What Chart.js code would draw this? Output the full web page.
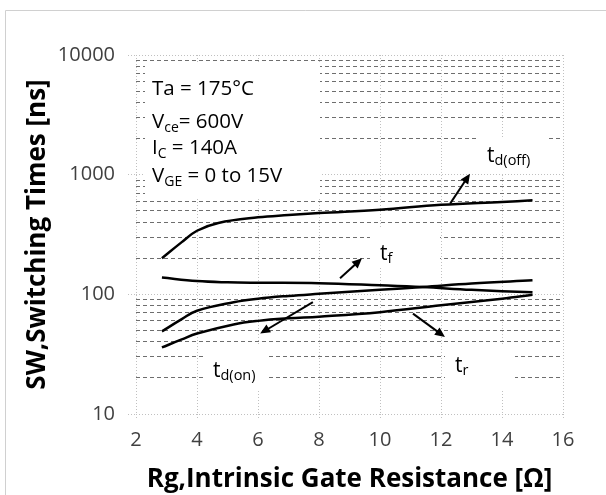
<!DOCTYPE html>
<html>
<head>
<meta charset="utf-8">
<script src="https://cdn.jsdelivr.net/npm/chart.js@4.4.1/dist/chart.umd.min.js"></script>
<style>
  html, body { margin: 0; padding: 0; background: #fff; }
  #wrap { position: relative; width: 606px; height: 495px; }
</style>
</head>
<body>
<div id="wrap"><canvas id="chart" width="606" height="495"></canvas></div>
<script>
// switching times [ns] against gate resistance [Ω]
const rgOff = [2.85, 3.5, 4, 4.7, 6, 7, 8, 10, 12, 14, 15];
const tdOff = [200, 273, 340, 395, 440, 460, 478, 510, 560, 592, 610];

const rgF = [2.85, 4, 5, 6, 8, 10, 11.4, 13, 15];
const tF = [138, 129, 126, 125, 124, 119, 115, 109, 104];

const rgOn = [2.85, 3.5, 4, 5.2, 6, 7, 8, 10, 11.4, 13, 15];
const tdOn = [49, 62, 73, 86, 92, 97, 101, 109, 115, 123, 131];

const rgR = [2.85, 3.5, 4, 5.2, 6, 7, 8, 10, 12, 14, 15];
const tR = [36, 42, 47, 56, 60, 63, 65, 71, 81, 92, 99];

const xTicks = [2, 4, 6, 8, 10, 12, 14, 16];
const yMajor = [10, 100, 1000, 10000];
const yMinor = [20, 30, 40, 50, 60, 70, 80, 90,
                200, 300, 400, 500, 600, 700, 800, 900,
                2000, 3000, 4000, 5000, 6000, 7000, 8000, 9000];

// arrows from a curve to its label, in data units
const arrows = [
  { x1: 12.30, y1: 573, x2: 12.95, y2: 1019 },  // td(off)
  { x1: 8.69, y1: 136, x2: 9.41, y2: 200 },     // tf
  { x1: 7.80, y1: 86, x2: 6.07, y2: 47 },       // td(on)
  { x1: 11.08, y1: 69, x2: 12.13, y2: 44 }      // tr
];

const FONT = '"Open Sans"';

function toPoints(xs, ys) {
  return xs.map((x, i) => ({ x: x, y: ys[i] }));
}

function curve(label, xs, ys) {
  return {
    label: label,
    data: toPoints(xs, ys),
    borderColor: '#000',
    borderWidth: 2.5,
    pointRadius: 0,
    fill: false,
    tension: 0.4
  };
}

// draws runs of text, some of them as subscripts
function drawRuns(ctx, x, y, runs) {
  runs.forEach(r => {
    ctx.font = (r.size || 20.5) + 'px ' + FONT;
    ctx.fillText(r.t, x, y + (r.dy || 0));
    x += ctx.measureText(r.t).width;
  });
}

function drawArrow(ctx, x1, y1, x2, y2) {
  const a = Math.atan2(y2 - y1, x2 - x1);
  const c = Math.cos(a), s = Math.sin(a);
  const len = 10, half = 4.5;
  ctx.beginPath();
  ctx.moveTo(x1, y1);
  ctx.lineTo(x2 - len * 0.7 * c, y2 - len * 0.7 * s);
  ctx.stroke();
  ctx.beginPath();
  ctx.moveTo(x2, y2);
  ctx.lineTo(x2 - len * c + half * s, y2 - len * s - half * c);
  ctx.lineTo(x2 - len * c - half * s, y2 - len * s + half * c);
  ctx.closePath();
  ctx.fill();
}

const annotations = {
  id: 'annotations',
  beforeDraw(chart) {
    const ctx = chart.ctx;
    ctx.save();
    ctx.fillStyle = '#fff';
    ctx.fillRect(0, 0, chart.width, chart.height);
    ctx.strokeStyle = '#d0d0d0';
    ctx.lineWidth = 1;
    ctx.beginPath();
    ctx.moveTo(5.5, chart.height);
    ctx.lineTo(5.5, 10.5);
    ctx.lineTo(chart.width, 10.5);
    ctx.stroke();
    ctx.restore();
  },
  beforeDatasetsDraw(chart) {
    // white backgrounds behind the labels
    const ctx = chart.ctx;
    ctx.save();
    ctx.fillStyle = '#fff';
    ctx.fillRect(145, 63, 175, 134);
    ctx.fillRect(478, 137, 69, 36);
    ctx.fillRect(370, 229, 70, 37);
    ctx.fillRect(203, 345, 64, 46);
    ctx.fillRect(445, 345, 70, 46);
    ctx.restore();
  },
  afterDatasetsDraw(chart) {
    const ctx = chart.ctx;
    const xs = chart.scales.x, ys = chart.scales.y;
    ctx.save();
    ctx.fillStyle = '#000';
    ctx.strokeStyle = '#000';
    ctx.lineWidth = 2;
    ctx.textBaseline = 'alphabetic';
    ctx.textAlign = 'left';

    drawRuns(ctx, 152, 95, [{ t: 'Ta = 175°C' }]);
    drawRuns(ctx, 152, 128, [{ t: 'V' }, { t: 'ce', size: 14, dy: 4 }, { t: '= 600V' }]);
    drawRuns(ctx, 152, 154, [{ t: 'I' }, { t: 'C', size: 14, dy: 4 }, { t: ' = 140A' }]);
    drawRuns(ctx, 152, 182, [{ t: 'V' }, { t: 'GE', size: 14, dy: 4 }, { t: ' = 0 to 15V' }]);

    drawRuns(ctx, 487, 162, [{ t: 't', size: 21 }, { t: 'd(off)', size: 14.5, dy: 3 }]);
    drawRuns(ctx, 380, 260, [{ t: 't', size: 21 }, { t: 'f', size: 14.5, dy: 3 }]);
    drawRuns(ctx, 213, 377, [{ t: 't', size: 21 }, { t: 'd(on)', size: 14.5, dy: 3 }]);
    drawRuns(ctx, 455, 372, [{ t: 't', size: 21 }, { t: 'r', size: 14.5, dy: 3 }]);

    arrows.forEach(a => {
      drawArrow(ctx,
        xs.getPixelForValue(a.x1), ys.getPixelForValue(a.y1),
        xs.getPixelForValue(a.x2), ys.getPixelForValue(a.y2));
    });
    ctx.restore();
  }
};

const ctx = document.getElementById('chart').getContext('2d');

const chart = new Chart(ctx, {
  type: 'line',
  data: {
    datasets: [
      curve('td(off)', rgOff, tdOff),
      curve('tf', rgF, tF),
      curve('td(on)', rgOn, tdOn),
      curve('tr', rgR, tR)
    ]
  },
  options: {
    responsive: false,
    animation: false,
    devicePixelRatio: 1,
    layout: { padding: { left: 0, right: 43, top: 55, bottom: 0 } },
    plugins: {
      legend: { display: false },
      tooltip: { enabled: false }
    },
    scales: {
      x: {
        type: 'linear',
        min: 2,
        max: 16,
        afterBuildTicks: s => { s.ticks = xTicks.map(v => ({ value: v })); },
        afterFit: s => { s.height = 81; },
        grid: { color: '#c0c0c0', tickLength: 6, tickColor: '#c0c0c0', tickBorderDash: [1, 2] },
        border: { display: false, dash: [1, 2] },
        ticks: {
          color: '#404040',
          font: { family: FONT, size: 20 },
          padding: 8,
          maxRotation: 0
        },
        title: {
          display: true,
          text: 'Rg,Intrinsic Gate Resistance [Ω]',
          color: '#000',
          font: { family: FONT, size: 26, weight: 'bold' },
          padding: { top: 0, bottom: 0 }
        }
      },
      y: {
        type: 'logarithmic',
        position: 'left',
        min: 10,
        max: 10000,
        afterBuildTicks: s => { s.ticks = yMajor.map(v => ({ value: v })); },
        afterFit: s => { s.width = 136; },
        grid: { color: '#c0c0c0', tickLength: 8, tickColor: '#c0c0c0', tickBorderDash: [1, 2] },
        border: { display: false, dash: [1, 2] },
        ticks: {
          color: '#404040',
          font: { family: FONT, size: 20 },
          padding: 13,
          callback: v => String(v)
        },
        title: {
          display: true,
          text: 'SW,Switching Times [ns]',
          color: '#000',
          font: { family: FONT, size: 26, weight: 'bold' },
          padding: { top: 22, bottom: 0 }
        }
      },
      yMinor: {
        type: 'logarithmic',
        position: 'left',
        min: 10,
        max: 10000,
        afterBuildTicks: s => { s.ticks = yMinor.map(v => ({ value: v })); },
        afterFit: s => { s.width = 0; },
        grid: { color: '#6e6e6e', drawTicks: false },
        border: { display: false, dash: [4, 3] },
        ticks: { display: false }
      }
    }
  },
  plugins: [annotations]
});
</script>
</body>
</html>
